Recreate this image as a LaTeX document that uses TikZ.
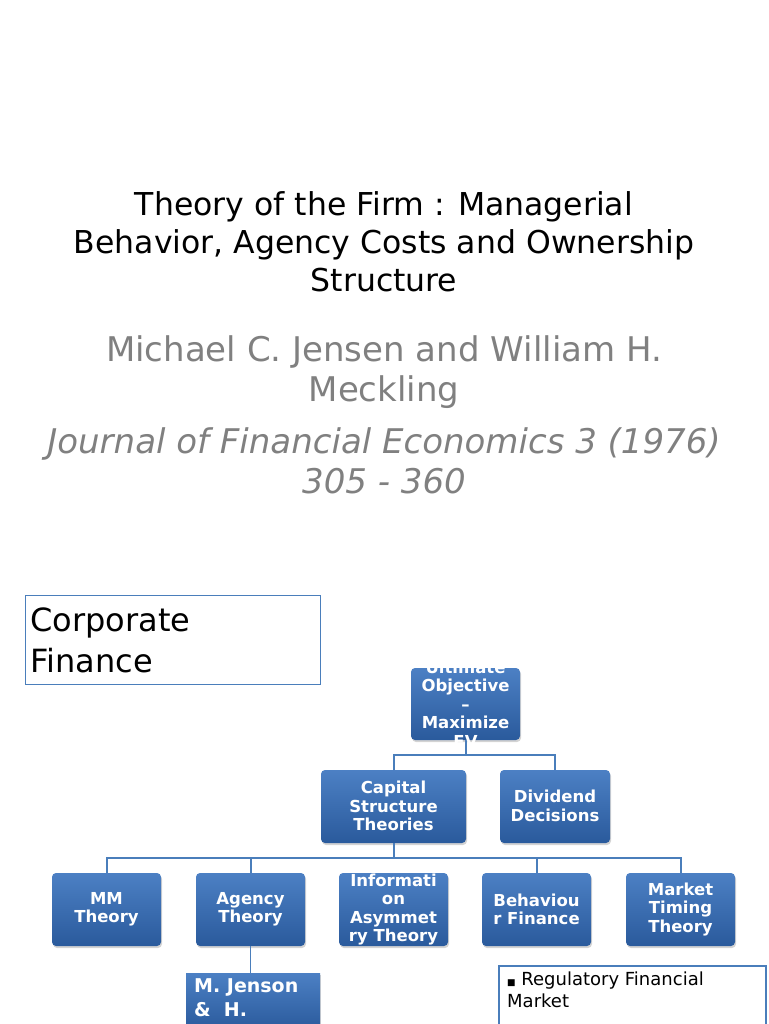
\documentclass[tikz,border=0pt]{standalone}
\usepackage{fontspec}
\setmainfont{DejaVu Sans}
\usetikzlibrary{shadows}
\definecolor{bbtop}{HTML}{4C80C4}
\definecolor{bbbot}{HTML}{2A5A9C}
\definecolor{lnk}{HTML}{4A7EBB}
\begin{document}
\begin{tikzpicture}[x=1pt,y=-1pt,
  bx/.style={rounded corners=4pt,top color=bbtop,bottom color=bbbot,draw=none,
    drop shadow={shadow xshift=1pt,shadow yshift=-2pt,opacity=0.35}},
  bt/.style={text=white,font=\fontsize{16.5}{18.5}\selectfont\bfseries,align=center,inner sep=0pt},
  lk/.style={draw=lnk,line width=2pt}]
\useasboundingbox (0,0) rectangle (768,1024);
\node[font=\fontsize{31.5}{38}\selectfont,align=center] (t) at (384,242) {Theory of the Firm : Managerial\\Behavior, Agency Costs and Ownership\\Structure};
\node[font=\fontsize{34}{40}\selectfont,align=center,text=gray] (a) at (384,372) {Michael C. Jensen and William H.\\Meckling};
\node[font=\fontsize{34}{40}\selectfont\itshape,align=center,text=gray] (j) at (384,461) {Journal of Financial Economics 3 (1976)\\305 - 360};
\node[draw=lnk,line width=1.2pt,minimum width=295pt,minimum height=89pt,text width=285pt,align=left,font=\fontsize{32}{41}\selectfont,anchor=north west] (cf) at (25,595) {Corporate\\Finance};
% boxes
\path[bx] (411,668) rectangle (520,740); \coordinate (u) at (465.5,704);
\path[bx] (321,770) rectangle (466,843); \coordinate (c) at (393.5,806);
\path[bx] (500,770) rectangle (610,843); \coordinate (d) at (555,806);
\foreach \x/\n in {52/mm,196/ag,339/in,482/be,626/mt}{
  \path[bx] (\x,873) rectangle (\x+109,946); \coordinate (\n) at (\x+54.5,909.5);}
\path[bx,rounded corners=0pt] (186,973) rectangle (320,1030);
% connectors
\draw[lk] (465.5,740) -- (465.5,755) coordinate (j1);
\draw[lk] (393.5,770) |- (j1) -| (555,770);
\draw[lk] (393.5,843) -- (393.5,858) coordinate (j2);
\draw[lk] (106.5,873) |- (j2) -| (680.5,873);
\foreach \x in {250.5,536.5}{\draw[lk] (\x,873) -- (\x,858);}
\draw[draw=lnk,line width=1pt] (250.5,946) -- (250.5,973);
% texts
\node[bt] at (465.5,704) {Ultimate\\Objective\\–\\Maximize\\FV};
\node[bt] at (393.5,806) {Capital\\Structure\\Theories};
\node[bt] at (555,806) {Dividend\\Decisions};
\node[bt] at (mm) {MM\\Theory};
\node[bt] at (ag) {Agency\\Theory};
\node[bt] at (in) {Informati\\on\\Asymmet\\ry Theory};
\node[bt] at (be) {Behaviou\\r Finance};
\node[bt] at (mt) {Market\\Timing\\Theory};
\node[text=white,font=\fontsize{19}{24}\selectfont\bfseries,align=left,anchor=north west,inner sep=0pt] (mj) at (194,978) {M. Jenson\\\&\ \ H.};
\draw[draw=lnk,line width=1.2pt] (499,1030) |- (766,966) -- (766,1030);
\node[font=\fontsize{18}{22}\selectfont,align=left,anchor=north west,inner sep=0pt] (rf) at (507,972) {{\fontsize{9}{9}\selectfont ■} Regulatory Financial\\Market};
\end{tikzpicture}
\end{document}
